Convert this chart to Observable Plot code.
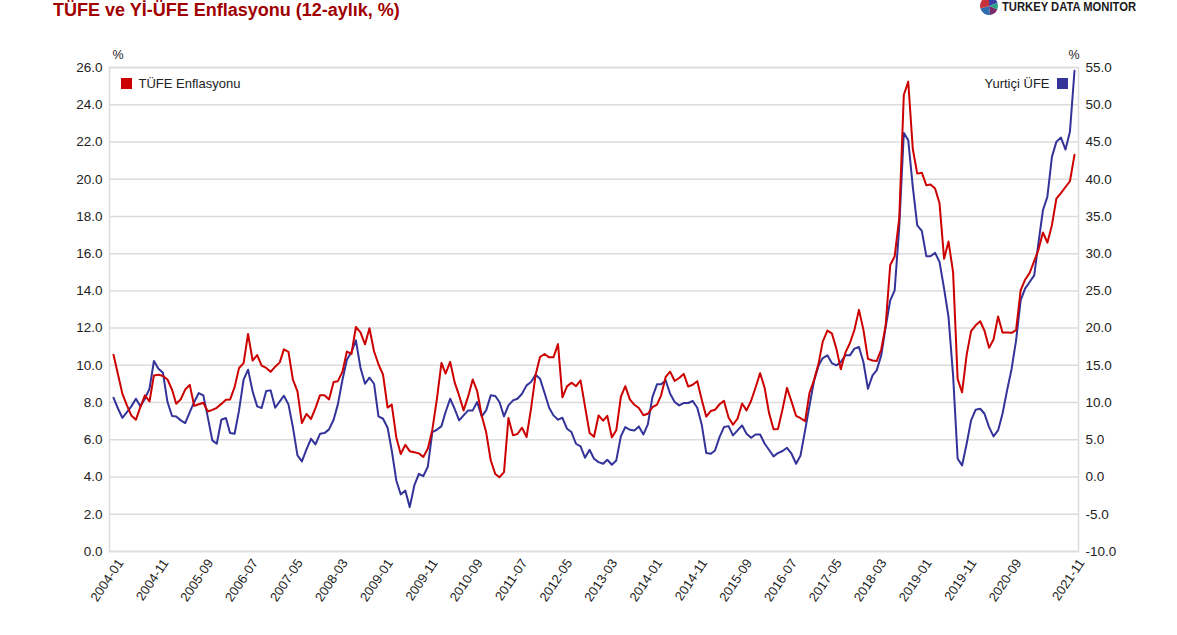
<!DOCTYPE html>
<html>
<head>
<meta charset="utf-8">
<script src="https://cdn.jsdelivr.net/npm/d3@7"></script>
<script src="https://cdn.jsdelivr.net/npm/@observablehq/plot@0.6"></script>
<style>
  html, body { margin: 0; padding: 0; background: #fff; }
  #wrap { position: relative; width: 1177px; height: 635px; overflow: hidden; font-family: "Liberation Sans", Arial, sans-serif; }
  #title { position: absolute; left: 53px; top: 1px; font-size: 18px; line-height: 19px; font-weight: bold; color: #a00000; white-space: nowrap; }
  #logo { position: absolute; left: 0; top: 0; }
  #chart { position: absolute; left: 0; top: 0; }
</style>
</head>
<body>
<div id="wrap">
  <div id="chart"></div>
  <div id="title">TÜFE ve Yİ-ÜFE Enflasyonu (12-aylık, %)</div>
  <svg id="logo" width="1177" height="20">
    <g transform="translate(989,6)">
      <path d="M0,0 L0,-9 A9,9 0 0,1 8.5,-3 Z" fill="#3b3fa8"/>
      <path d="M0,0 L8.5,-3 A9,9 0 0,1 8.3,3.5 Z" fill="#2aa58a"/>
      <path d="M0,0 L8.3,3.5 A9,9 0 0,1 1,8.9 Z" fill="#7a2a6a"/>
      <path d="M0,0 L1,8.9 A9,9 0 0,1 -8.6,2.5 Z" fill="#2f6db0"/>
      <path d="M0,0 L-8.6,2.5 A9,9 0 0,1 0,-9 Z" fill="#c8323a"/>
    </g>
    <text x="1002" y="11" font-family="Liberation Sans Narrow, Liberation Sans, Arial, sans-serif" font-weight="bold" font-size="13" fill="#1a1a1a" textLength="134" lengthAdjust="spacingAndGlyphs">TURKEY DATA MONITOR</text>
  </svg>
</div>
<script>
// ---- data ----
const tufe = [
  10.57, 9.50, 8.48, 7.85, 7.30, 7.08, 7.76, 8.39, 8.06, 9.46, 9.50, 9.43,
  9.24, 8.69, 7.94, 8.18, 8.70, 8.95, 7.82, 7.91, 7.99, 7.52, 7.61, 7.72,
  7.93, 8.15, 8.16, 8.83, 9.86, 10.12, 11.69, 10.26, 10.55, 9.98, 9.86, 9.65,
  9.93, 10.16, 10.86, 10.72, 9.23, 8.60, 6.90, 7.39, 7.12, 7.70, 8.40, 8.39,
  8.17, 9.10, 9.15, 9.66, 10.74, 10.61, 12.06, 11.77, 11.13, 11.99, 10.76, 10.06,
  9.50, 7.73, 7.89, 6.13, 5.24, 5.73, 5.39, 5.33, 5.27, 5.08, 5.53, 6.53,
  8.19, 10.13, 9.56, 10.19, 9.10, 8.37, 7.58, 8.33, 9.24, 8.62, 7.29, 6.40,
  4.90, 4.16, 3.99, 4.26, 7.17, 6.24, 6.31, 6.65, 6.15, 7.66, 9.48, 10.45,
  10.61, 10.43, 10.43, 11.14, 8.28, 8.87, 9.07, 8.88, 9.19, 7.80, 6.37, 6.16,
  7.31, 7.03, 7.29, 6.13, 6.51, 8.30, 8.88, 8.17, 7.88, 7.71, 7.32, 7.40,
  7.75, 7.89, 8.39, 9.38, 9.66, 9.16, 9.32, 9.54, 8.86, 8.96, 9.15, 8.17,
  7.24, 7.55, 7.61, 7.91, 8.09, 7.20, 6.81, 7.14, 7.95, 7.58, 8.10, 8.81,
  9.58, 8.78, 7.46, 6.57, 6.58, 7.64, 8.79, 8.05, 7.28, 7.16, 7.00, 8.53,
  9.22, 10.13, 11.29, 11.87, 11.72, 10.90, 9.79, 10.68, 11.20, 11.90, 12.98, 11.92,
  10.35, 10.26, 10.23, 10.85, 12.15, 15.39, 15.85, 17.90, 24.52, 25.24, 21.62, 20.30,
  20.35, 19.67, 19.71, 19.50, 18.71, 15.72, 16.65, 15.01, 9.26, 8.55, 10.56, 11.84,
  12.15, 12.37, 11.86, 10.94, 11.39, 12.62, 11.76, 11.77, 11.75, 11.89, 14.03, 14.60,
  14.97, 15.61, 16.19, 17.14, 16.59, 17.53, 18.95, 19.25, 19.58, 19.89, 21.31
];
const yiufe = [
  10.65, 9.17, 7.96, 8.73, 9.49, 10.52, 9.49, 10.52, 11.86, 15.58, 14.55, 14.01,
  10.07, 8.19, 8.14, 7.61, 7.25, 8.73, 10.07, 11.28, 10.97, 8.05, 4.92, 4.47,
  7.70, 7.92, 5.90, 5.81, 8.95, 13.07, 14.42, 11.50, 9.49, 9.26, 11.55, 11.64,
  9.31, 10.16, 10.92, 9.76, 6.71, 2.90, 2.10, 3.71, 5.14, 4.38, 5.81, 5.90,
  6.40, 7.70, 9.76, 13.07, 15.76, 16.79, 18.36, 14.68, 12.53, 13.34, 12.53, 8.14,
  7.83, 6.62, 3.57, -0.46, -2.34, -1.80, -4.04, -1.13, 0.44, 0.12, 1.42, 6.04,
  6.35, 6.84, 8.73, 10.52, 9.17, 7.61, 8.28, 8.95, 8.95, 10.07, 8.14, 8.95,
  10.97, 10.88, 10.07, 8.14, 9.62, 10.29, 10.52, 11.19, 12.31, 12.76, 13.74, 13.21,
  11.28, 9.31, 8.28, 7.70, 7.96, 6.49, 6.04, 4.47, 4.11, 2.59, 3.66, 2.45,
  2.01, 1.78, 2.32, 1.65, 2.23, 5.46, 6.71, 6.35, 6.26, 6.80, 5.72, 7.07,
  10.74, 12.45, 12.45, 12.98, 11.19, 10.07, 9.62, 9.94, 9.94, 10.21, 9.31, 7.07,
  3.22, 3.13, 3.57, 5.37, 6.71, 6.84, 5.59, 6.26, 6.93, 5.81, 5.28, 5.72,
  5.72, 4.47, 3.66, 2.77, 3.22, 3.50, 3.93, 3.13, 1.78, 2.90, 6.26, 9.62,
  12.98, 15.00, 15.98, 16.34, 15.31, 15.00, 15.45, 16.34, 16.34, 17.24, 17.46, 15.45,
  11.86, 13.65, 14.33, 16.34, 20.15, 23.73, 25.08, 33.59, 46.22, 45.24, 38.97, 33.81,
  33.05, 29.65, 29.65, 30.10, 28.89, 25.30, 21.49, 13.65, 2.45, 1.56, 4.47, 7.61,
  9.04, 9.17, 8.50, 6.71, 5.46, 6.26, 8.50, 11.64, 14.55, 18.36, 23.73, 25.30,
  26.20, 27.09, 31.35, 35.83, 37.62, 43.00, 45.01, 45.60, 43.98, 46.36, 54.56
];
const firstMonth = "2004-01";
const lastMonth = "2021-11";
const xTickLabels = ["2004-01","2004-11","2005-09","2006-07","2007-05","2008-03","2009-01","2009-11","2010-09","2011-07","2012-05","2013-03","2014-01","2014-11","2015-09","2016-07","2017-05","2018-03","2019-01","2019-11","2020-09","2021-11"];
const leftTicks = [0,2,4,6,8,10,12,14,16,18,20,22,24,26];
const leftTickLabels = ["0.0","2.0","4.0","6.0","8.0","10.0","12.0","14.0","16.0","18.0","20.0","22.0","24.0","26.0"];
const rightTickLabels = ["-10.0","-5.0","0.0","5.0","10.0","15.0","20.0","25.0","30.0","35.0","40.0","45.0","50.0","55.0"];
const seriesNames = ["TÜFE Enflasyonu", "Yurtiçi ÜFE"];
const colors = ["#cc0000", "#333399"];
// right axis (%): -10..55 shares the grid with left axis 0..26
const rightMin = -10, rightPerLeft = 2.5;

// ---- build ----
const parse = d3.utcParse("%Y-%m");
const fmt = d3.utcFormat("%Y-%m");
const months = d3.utcMonth.range(parse(firstMonth), d3.utcMonth.offset(parse(lastMonth), 1));
const data = months.map((date, i) => ({date, tufe: tufe[i], ufe: yiufe[i]}));
const xTicks = xTickLabels.map(parse);

const chart = Plot.plot({
  width: 1177,
  height: 635,
  marginLeft: 109,
  marginRight: 99,
  marginTop: 67,
  marginBottom: 84,
  insetLeft: 4,
  insetRight: 4,
  x: {type: "utc", domain: [months[0], months[months.length - 1]]},
  y: {domain: [0, 26]},
  style: {fontFamily: "'Liberation Sans', Arial, sans-serif", fontSize: "13px", color: "#222", background: "transparent"},
  marks: [
    Plot.gridY(leftTicks, {stroke: "#dcdcdc", strokeOpacity: 1, strokeWidth: 1.5}),
    Plot.frame({stroke: "#dcdcdc", strokeWidth: 1.5}),
    Plot.axisY(leftTicks, {anchor: "left", tickSize: 0, tickPadding: 7, label: null, fontSize: 13.5,
      tickFormat: d => leftTickLabels[leftTicks.indexOf(d)]}),
    Plot.axisY(leftTicks, {anchor: "right", tickSize: 0, tickPadding: 7, label: null, textAnchor: "start", fontSize: 13.5,
      tickFormat: d => rightTickLabels[leftTicks.indexOf(d)]}),
    Plot.axisX(xTicks, {anchor: "bottom", tickSize: 0, tickPadding: 9, tickRotate: -56, label: null, dx: 7,
      tickFormat: fmt, fontSize: 13}),
    Plot.text(["%"], {frameAnchor: "top-left", dx: 3, dy: -17, textAnchor: "start", lineAnchor: "top", fontSize: 12.5}),
    Plot.text(["%"], {frameAnchor: "top-right", dx: -10, dy: -17, textAnchor: "start", lineAnchor: "top", fontSize: 12.5}),
    Plot.lineY(data, {x: "date", stroke: colors[1], strokeWidth: 2,
      y: d => (d.ufe - rightMin) / rightPerLeft}),
    Plot.lineY(data, {x: "date", y: "tufe", stroke: colors[0], strokeWidth: 2}),
    Plot.dot([seriesNames[0]], {frameAnchor: "top-left", dx: 17, dy: 16, symbol: "square", r: 6.2, fill: colors[0], stroke: null}),
    Plot.text([seriesNames[0]], {frameAnchor: "top-left", dx: 29, dy: 16, textAnchor: "start", lineAnchor: "middle", fontSize: 13}),
    Plot.dot([seriesNames[1]], {frameAnchor: "top-right", dx: -16, dy: 16, symbol: "square", r: 6.2, fill: colors[1], stroke: null}),
    Plot.text([seriesNames[1]], {frameAnchor: "top-right", dx: -29, dy: 16, textAnchor: "end", lineAnchor: "middle", fontSize: 13})
  ]
});
document.getElementById("chart").appendChild(chart);
</script>
</body>
</html>
